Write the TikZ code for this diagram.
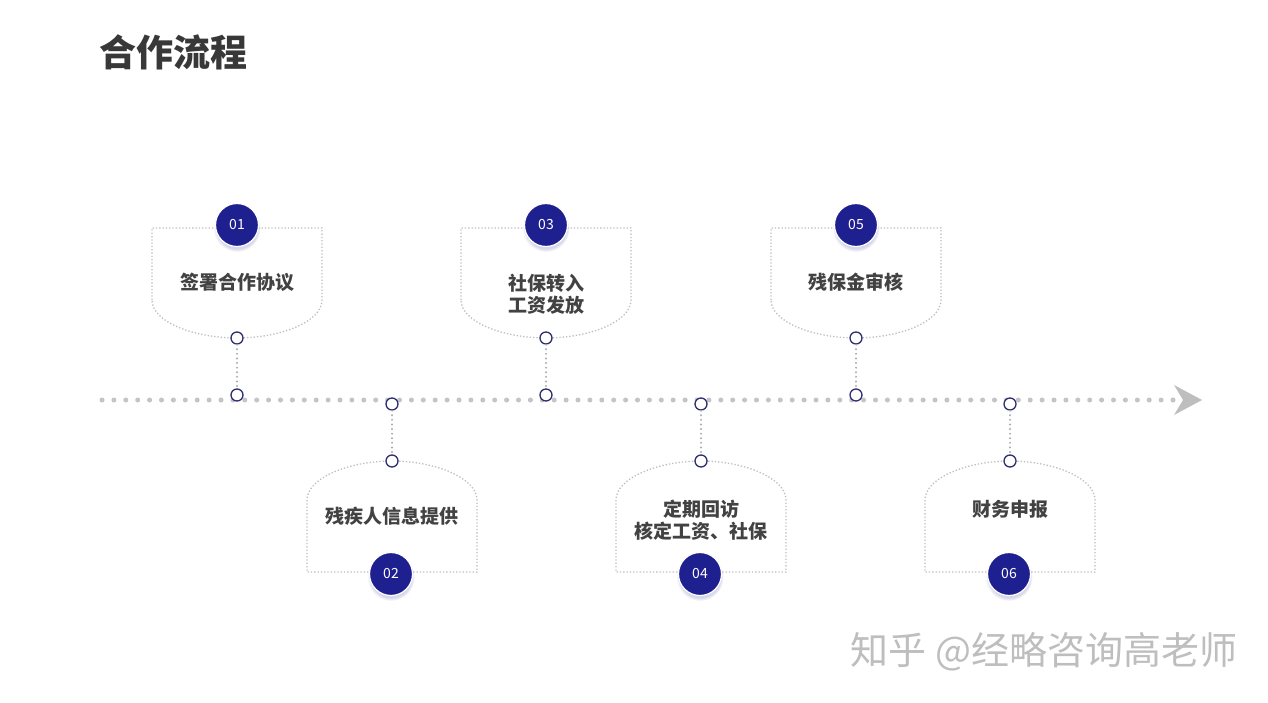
\documentclass[tikz,border=0pt]{standalone}
\usepackage{fontspec}
\setmainfont{Noto Sans CJK SC}
\usetikzlibrary{shadows}
\definecolor{navy}{RGB}{31, 32, 143}
\definecolor{portline}{RGB}{44, 46, 112}
\definecolor{cardgray}{RGB}{190, 190, 194}
\definecolor{linkgray}{RGB}{170, 170, 178}
\definecolor{railgray}{RGB}{196, 196, 200}
\definecolor{arrowgray}{RGB}{190, 190, 190}
\definecolor{textgray}{RGB}{66, 66, 66}
\definecolor{markgray}{RGB}{190, 190, 190}

\tikzset{
  numdot/.style   = {circle, fill=navy, draw=white, line width=1.2pt, minimum size=43pt, inner sep=0pt,
                     text=white, font=\fontsize{14}{14}\selectfont,
                     circular drop shadow={shadow xshift=0pt, shadow yshift=-3pt, opacity=0.35, fill=navy!50}},
  port/.style     = {circle, draw=portline, fill=white, line width=1.3pt, minimum size=12pt, inner sep=0pt},
  card/.style     = {draw=cardgray, line width=1.3pt, dash pattern=on 1.3pt off 2pt},
  link/.style     = {draw=linkgray, line width=2.2pt, line cap=round, dash pattern=on 0pt off 4.6pt},
  rail/.style     = {draw=railgray, line width=5pt, line cap=round, dash pattern=on 0pt off 11.9pt},
  steptext/.style = {text=textgray, font=\fontsize{19}{22}\selectfont\bfseries, align=center}
}

\begin{document}
\begin{tikzpicture}[x=1pt, y=-1pt]
            \useasboundingbox[fill=white] (0,0) rectangle (1268,703);
            \node[anchor=west, inner sep=0pt, text=textgray!85!black, font=\fontsize{37}{37}\selectfont\bfseries] (title) at (99,52) {合作流程};

            % timeline
            \coordinate (railstart) at (102,400);
            \coordinate (railend)   at (1175,400);
            \draw[rail] (railstart) -- (railend);
            \fill[arrowgray] (1202,400) -- (1174,385) -- (1183,400) -- (1174,415) -- cycle;

            % cards above the line
            \draw[card] (152,300) -- (152,228) -- (322,228) -- (322,300) .. controls (322,322) and (280,338) .. (237,338) .. controls (194,338) and (152,322) .. (152,300);
            \draw[card] (461,300) -- (461,228) -- (631,228) -- (631,300) .. controls (631,322) and (589,338) .. (546,338) .. controls (503,338) and (461,322) .. (461,300);
            \draw[card] (771,300) -- (771,228) -- (941,228) -- (941,300) .. controls (941,322) and (899,338) .. (856,338) .. controls (813,338) and (771,322) .. (771,300);
            % cards below the line
            \draw[card] (307,500) -- (307,572) -- (477,572) -- (477,500) .. controls (477,478) and (435,461) .. (392,461) .. controls (349,461) and (307,478) .. (307,500);
            \draw[card] (616,500) -- (616,572) -- (786,572) -- (786,500) .. controls (786,478) and (744,461) .. (701,461) .. controls (658,461) and (616,478) .. (616,500);
            \draw[card] (925,500) -- (925,572) -- (1095,572) -- (1095,500) .. controls (1095,478) and (1053,461) .. (1010,461) .. controls (967,461) and (925,478) .. (925,500);

            \node[port] (c1) at (237,338) {};   \node[port] (r1) at (237,395) {};
            \node[port] (c2) at (392,461) {};   \node[port] (r2) at (392,404) {};
            \node[port] (c3) at (546,338) {};   \node[port] (r3) at (546,395) {};
            \node[port] (c4) at (701,461) {};   \node[port] (r4) at (701,404) {};
            \node[port] (c5) at (856,338) {};   \node[port] (r5) at (856,395) {};
            \node[port] (c6) at (1010,461) {};  \node[port] (r6) at (1010,404) {};
            \draw[link] (c1) -- (r1);
            \draw[link] (r2) -- (c2);
            \draw[link] (c3) -- (r3);
            \draw[link] (r4) -- (c4);
            \draw[link] (c5) -- (r5);
            \draw[link] (r6) -- (c6);

            \node[numdot] (n1) at (237,225) {01};
            \node[numdot] (n2) at (391,574) {02};
            \node[numdot] (n3) at (546,225) {03};
            \node[numdot] (n4) at (700,574) {04};
            \node[numdot] (n5) at (856,225) {05};
            \node[numdot] (n6) at (1009,574) {06};

            \node[steptext] (t1) at (237,282) {签署合作协议};
            \node[steptext] (t2) at (392,516) {残疾人信息提供};
            \node[steptext] (t3) at (546,294) {社保转入\\工资发放};
            \node[steptext] (t4) at (701,520) {定期回访\\核定工资、社保};
            \node[steptext] (t5) at (856,282) {残保金审核};
            \node[steptext] (t6) at (1010,509) {财务申报};

            \node[text=markgray, font=\fontsize{38}{38}\selectfont] (mark) at (1044,652) {知乎 @经略咨询高老师};
        \end{tikzpicture}
\end{document}
